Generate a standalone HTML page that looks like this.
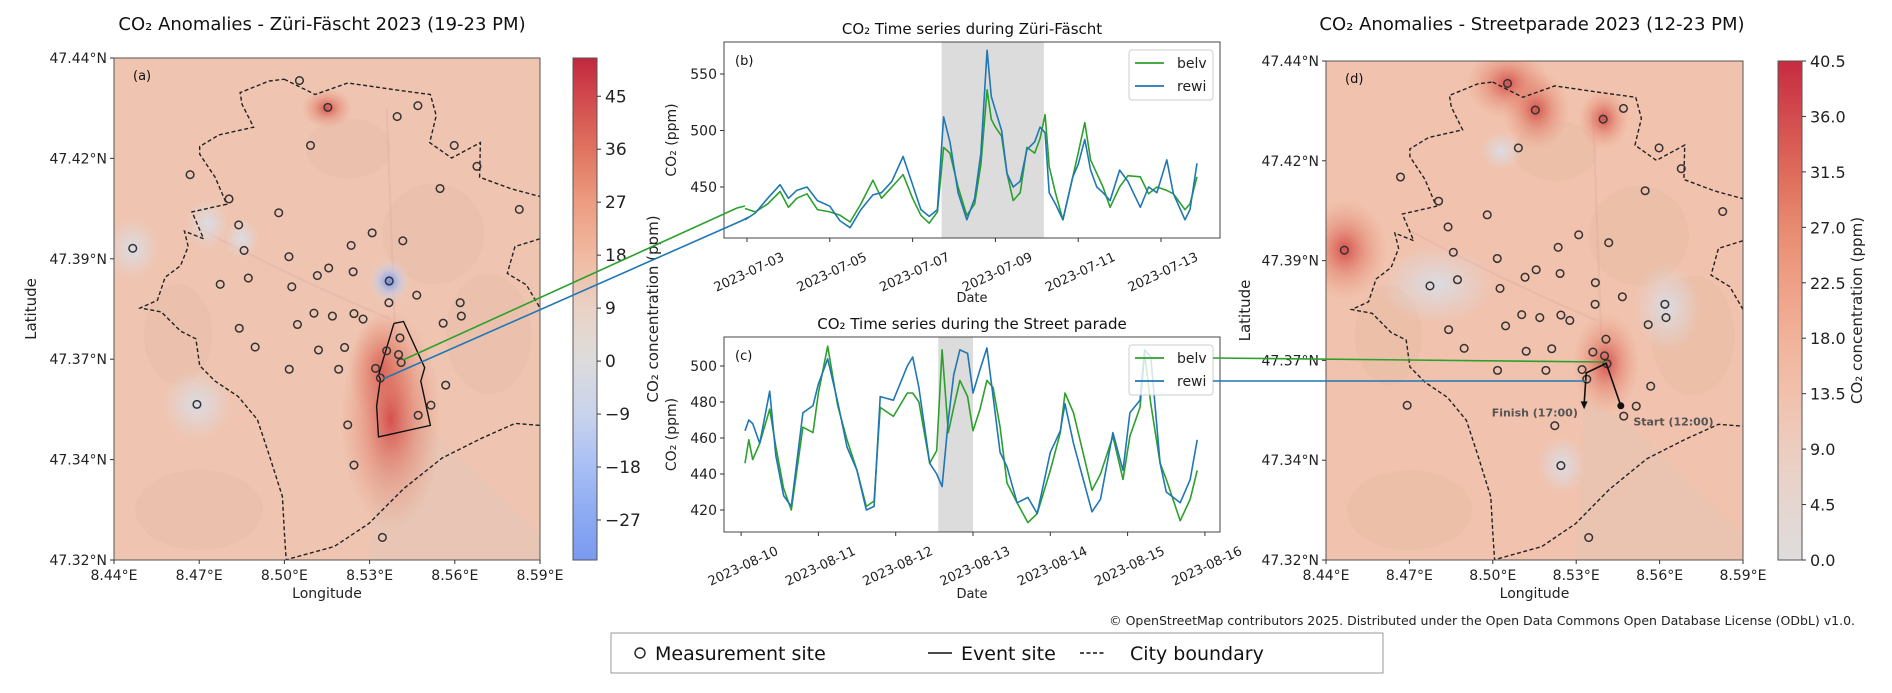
<!DOCTYPE html>
<html><head><meta charset="utf-8">
<style>
html,body{margin:0;padding:0;background:#fff;}
svg{display:block;font-family:"DejaVu Sans","Liberation Sans",sans-serif;}
</style></head>
<body>
<svg id="fig" width="1892" height="693" viewBox="0 0 1892 693" xmlns="http://www.w3.org/2000/svg">
<defs>
<linearGradient id="cbA" x1="0" y1="0" x2="0" y2="1">
<stop offset="0" stop-color="#c1273d"/><stop offset="0.07" stop-color="#d0464c"/><stop offset="0.18" stop-color="#e0725e"/><stop offset="0.28" stop-color="#eb9a7f"/><stop offset="0.39" stop-color="#f1b9a0"/><stop offset="0.5" stop-color="#ead2c6"/><stop offset="0.6" stop-color="#dddcdc"/><stop offset="0.71" stop-color="#c9d3ec"/><stop offset="0.81" stop-color="#a9c0f4"/><stop offset="0.92" stop-color="#8aa8f2"/><stop offset="1" stop-color="#7a9af0"/>
</linearGradient>
<linearGradient id="cbD" x1="0" y1="0" x2="0" y2="1">
<stop offset="0" stop-color="#c72b40"/><stop offset="0.11" stop-color="#d34b4e"/><stop offset="0.22" stop-color="#de6a5a"/><stop offset="0.33" stop-color="#e78a6f"/><stop offset="0.44" stop-color="#ee9f85"/><stop offset="0.56" stop-color="#f1b39b"/><stop offset="0.67" stop-color="#f1c1ad"/><stop offset="0.78" stop-color="#eccdc0"/><stop offset="0.89" stop-color="#e5d6d0"/><stop offset="1" stop-color="#dedcdc"/>
</linearGradient>
<radialGradient id="hotR"><stop offset="0" stop-color="#d44a48" stop-opacity="0.95"/><stop offset="0.5" stop-color="#e07a66" stop-opacity="0.5"/><stop offset="1" stop-color="#e8947c" stop-opacity="0"/></radialGradient>
<radialGradient id="hotB"><stop offset="0" stop-color="#6e8fe6" stop-opacity="1"/><stop offset="0.5" stop-color="#b9c6ee" stop-opacity="0.6"/><stop offset="1" stop-color="#dcd8dc" stop-opacity="0"/></radialGradient>
<radialGradient id="hotG"><stop offset="0" stop-color="#dadde6" stop-opacity="0.95"/><stop offset="1" stop-color="#dddbe0" stop-opacity="0"/></radialGradient>
<clipPath id="clipA"><rect x="114" y="58" width="426" height="502"/></clipPath>
<clipPath id="clipD"><rect x="1326" y="61" width="417" height="499"/></clipPath>
<clipPath id="clipB"><rect x="724" y="42" width="496" height="196"/></clipPath>
<clipPath id="clipC"><rect x="724" y="337" width="496" height="195"/></clipPath>
</defs>
<g id="root"></g>
</svg>
<script>
// ---- Time series (b) Züri-Fäscht: day of July 2023
const daysB=[2.95,3.2,3.5,3.8,4.0,4.2,4.45,4.7,5.0,5.25,5.49,5.75,6.04,6.25,6.5,6.77,7.0,7.2,7.4,7.6,7.75,7.9,8.1,8.31,8.5,8.65,8.8,8.9,9.0,9.15,9.28,9.43,9.6,9.76,9.95,10.08,10.2,10.3,10.45,10.63,10.87,11.0,11.16,11.3,11.45,11.6,11.77,12.0,12.2,12.5,12.7,12.9,13.14,13.3,13.58,13.7,13.87];
const rewiB=[421,427,440,452,440,447,450,438,433,420,414,430,443,445,455,477,452,430,424,430,512,490,445,421,440,480,571,530,518,500,462,450,455,483,490,503,498,445,435,421,459,470,492,465,450,445,438,465,455,432,450,445,474,444,421,430,471];
const belvB=[431,428,435,446,432,440,444,430,428,425,419,435,456,440,450,461,440,425,418,428,485,480,450,425,435,470,536,510,503,495,462,438,445,485,480,493,514,468,445,421,459,480,507,474,462,450,432,450,460,459,444,450,447,444,430,435,459];
const eventB=[7.7,10.17];
const ticksB=[3,5,7,9,11,13];
const ticksBLabels=["2023-07-03","2023-07-05","2023-07-07","2023-07-09","2023-07-11","2023-07-13"];
const yTicksB=[450,500,550];
// ---- Time series (c) Street parade: day of August 2023
const daysC=[10.05,10.1,10.15,10.24,10.37,10.45,10.55,10.65,10.8,10.93,11.0,11.12,11.25,11.37,11.5,11.62,11.72,11.8,11.97,12.15,12.22,12.3,12.44,12.53,12.6,12.68,12.75,12.83,12.93,13.0,13.09,13.18,13.26,13.35,13.44,13.57,13.71,13.83,14.0,14.13,14.19,14.3,14.54,14.65,14.81,14.94,15.03,15.16,15.22,15.3,15.42,15.5,15.68,15.81,15.9];
const rewiC=[464,470,468,457,486,450,428,422,474,478,490,504,480,455,442,420,422,483,481,500,505,488,446,440,433,470,495,509,507,485,498,510,483,452,444,424,427,418,452,464,479,457,419,426,463,442,474,481,509,505,446,430,424,437,459];
const belvC=[446,459,448,457,476,455,432,420,466,463,485,511,478,459,442,422,425,477,472,485,485,480,446,453,509,463,477,492,483,464,476,492,488,466,435,424,413,418,442,463,485,474,431,440,461,437,461,477,507,479,446,437,414,426,442];
const eventC=[12.55,13.0];
const ticksC=[10,11,12,13,14,15,16];
const ticksCLabels=["2023-08-10","2023-08-11","2023-08-12","2023-08-13","2023-08-14","2023-08-15","2023-08-16"];
const yTicksC=[420,440,460,480,500];
// ---- Measurement sites (lon, lat)
const siteLon=[8.5053,8.5153,8.5397,8.5470,8.5092,8.5598,8.5678,8.4668,8.5548,8.4805,8.4980,8.5827,8.4839,8.5309,8.5417,8.4466,8.4858,8.5235,8.5016,8.5156,8.5242,8.5116,8.4873,8.5369,8.4774,8.5026,8.5466,8.5368,8.5619,8.5623,8.5104,8.5169,8.5245,8.5277,8.5559,8.5046,8.4841,8.5407,8.4897,8.5120,8.5212,8.5360,8.5402,8.5411,8.5017,8.5191,8.5321,8.5338,8.5568,8.4692,8.5516,8.5471,8.5223,8.5245,8.5345];
const siteLat=[47.4346,47.4282,47.4260,47.4286,47.4191,47.4191,47.4141,47.4121,47.4088,47.4063,47.4030,47.4038,47.4001,47.3982,47.3963,47.3945,47.3940,47.3952,47.3925,47.3898,47.3889,47.3880,47.3874,47.3867,47.3859,47.3853,47.3833,47.3815,47.3815,47.3783,47.3790,47.3783,47.3789,47.3776,47.3766,47.3763,47.3754,47.3731,47.3709,47.3702,47.3708,47.3700,47.3691,47.3672,47.3656,47.3656,47.3658,47.3635,47.3618,47.3572,47.3570,47.3546,47.3523,47.3427,47.3254];
const lonTicks=[8.44,8.47,8.50,8.53,8.56,8.59];
const latTicks=["47.44°N","47.42°N","47.39°N","47.37°N","47.34°N","47.32°N"];
const cbATicks=[45,36,27,18,9,0,-9,-18,-27];
const cbDTicks=[40.5,36.0,31.5,27.0,22.5,18.0,13.5,9.0,4.5,0.0];

const NS="http://www.w3.org/2000/svg";
const root=document.getElementById('root');
function mk(tag,attrs,parent,text){const e=document.createElementNS(NS,tag);for(const k in attrs)e.setAttribute(k,attrs[k]);if(text!==undefined)e.textContent=text;(parent||root).appendChild(e);return e;}

// ---------- MAPS ----------
const boundaryPx=[[740,205],[820,245],[905,215],[1045,235],[1120,245],[1135,300],[1118,370],[1175,410],[1250,370],[1248,460],[1330,490],[1405,510],[1440,520],[1440,610],[1405,620],[1340,640],[1320,710],[1370,740],[1405,800],[1440,820],[1440,1100],[1405,1105],[1340,1100],[1250,1140],[1150,1190],[1050,1270],[960,1360],[870,1420],[760,1450],[745,1455],[740,1380],[735,1290],[700,1180],[670,1090],[620,1030],[560,990],[520,950],[510,880],[470,860],[420,810],[365,800],[410,780],[430,720],[470,690],[490,640],[480,600],[530,620],[500,550],[590,530],[560,460],[520,400],[520,380],[570,350],[660,330],[630,270],[625,240],[700,210],[740,205]];
const eventPx=[[1025,840],[1050,835],[1105,955],[1095,990],[1120,1105],[985,1135],[980,1055],[990,985],[985,975],[1025,840]];
function norm(p){return [(p[0]-297)/1108,(p[1]-150)/1305];}

function drawMap(M){
  const g=mk('g',{});
  const lx=lon=>M.x+(lon-8.44)/0.15*M.w;
  const ly=lat=>M.y+(47.44-lat)/0.12*M.h;
  const nx=n=>M.x+n*M.w, ny=n=>M.y+n*M.h;
  const inner=mk('g',{'clip-path':`url(#${M.clip})`},g);
  const bg=mk('rect',{x:M.x,y:M.y,width:M.w,height:M.h,fill:M.base},inner);
  
  
  [[0.75,0.35,0.12,0.1],[0.2,0.9,0.15,0.08],[0.55,0.18,0.1,0.06],[0.88,0.55,0.1,0.12],[0.15,0.55,0.08,0.1]].forEach(p=>{
    mk('ellipse',{cx:nx(p[0]),cy:ny(p[1]),rx:p[2]*M.w,ry:p[3]*M.h,fill:'#d9b29c','fill-opacity':0.18},inner);
  });
  mk('path',{d:`M${nx(0.62)},${ny(0.68)} L${nx(0.72)},${ny(0.72)} L${nx(1)},${ny(0.95)} L${nx(1)},${ny(1)} L${nx(0.6)},${ny(1)} Z`,fill:'#dcc6bb','fill-opacity':0.35},inner);
  mk('path',{d:`M${nx(0.2)},${ny(0.34)} Q${nx(0.45)},${ny(0.45)} ${nx(0.65)},${ny(0.52)} M${nx(0.64)},${ny(0.1)} L${nx(0.66)},${ny(0.55)}`,fill:'none',stroke:'#d5a0a0','stroke-width':2,'stroke-opacity':0.25},inner);
  M.spots.forEach(s=>{mk('ellipse',{cx:nx(s[0]),cy:ny(s[1]),rx:s[2]*M.w,ry:s[3]*M.h,fill:`url(#${s[4]})`},inner);});
  const bd=boundaryPx.map(norm).map((p,i)=>(i?'L':'M')+nx(p[0]).toFixed(1)+','+ny(p[1]).toFixed(1)).join(' ');
  const bp=mk('path',{d:bd,fill:'none',stroke:'#222','stroke-width':1.4,'stroke-dasharray':'4,2.5'},inner);
  
  
  if(M.event){
    const ed=eventPx.map(norm).map((p,i)=>(i?'L':'M')+nx(p[0]).toFixed(1)+','+ny(p[1]).toFixed(1)).join(' ');
    const ep=mk('path',{d:ed,fill:'none',stroke:'#111','stroke-width':1.4},inner);
    
    
  }
  siteLon.forEach((lon,i)=>{
    const c=mk('circle',{cx:lx(lon),cy:ly(siteLat[i]),r:3.8,fill:'none',stroke:'#333','stroke-width':1.5},inner);
    
    
  });
  if(M.route){
    const r=[[0.707,0.691],[0.672,0.606],[0.624,0.625],[0.619,0.688]];
    mk('path',{d:r.map((p,i)=>(i?'L':'M')+nx(p[0])+','+ny(p[1])).join(' '),fill:'none',stroke:'#111','stroke-width':1.6},inner);
    mk('path',{d:`M${nx(0.619)-3.5},${ny(0.682)} L${nx(0.619)+3.5},${ny(0.682)} L${nx(0.619)},${ny(0.698)} Z`,fill:'#111'},inner);
    mk('circle',{cx:nx(0.707),cy:ny(0.691),r:3.5,fill:'#111'},inner);
    const f=mk('text',{x:nx(0.604),y:ny(0.712),'text-anchor':'end','font-size':11,'font-weight':'bold',fill:'#555'},inner,'Finish (17:00)');
    
    
    const s=mk('text',{x:nx(0.737),y:ny(0.73),'font-size':11,'font-weight':'bold',fill:'#555'},inner,'Start (12:00)');
    
    
  }
  mk('rect',{x:M.x,y:M.y,width:M.w,height:M.h,fill:'none',stroke:'#555','stroke-width':1},g);
  mk('text',{x:M.x+19,y:M.y+22,'font-size':13,fill:'#111'},g,M.tag);
  lonTicks.forEach(t=>{
    const x=lx(t);
    mk('line',{x1:x,y1:M.y+M.h,x2:x,y2:M.y+M.h+4,stroke:'#333'},g);
    mk('text',{x:x,y:M.y+M.h+20,'text-anchor':'middle','font-size':14,fill:'#222'},g,t.toFixed(2)+'°E');
  });
  latTicks.forEach((t,i)=>{
    const y=M.y+i*M.h/5;
    mk('line',{x1:M.x-4,y1:y,x2:M.x,y2:y,stroke:'#333'},g);
    mk('text',{x:M.x-7,y:y+5,'text-anchor':'end','font-size':14,fill:'#222'},g,t);
  });
  mk('text',{x:M.x+M.w/2,y:M.y+M.h+38,'text-anchor':'middle','font-size':14,fill:'#222'},g,'Longitude');
  mk('text',{x:0,y:0,'text-anchor':'middle','font-size':15,fill:'#222',transform:`translate(${M.latX},${M.y+M.h/2}) rotate(-90)`},g,'Latitude');
  const tt=mk('text',{x:M.titleX,y:30,'text-anchor':'middle','font-size':18,fill:'#111'},g,M.title);
  
  
  const cb=mk('g',{},g);
  
  
  mk('rect',{x:M.cbX,y:M.y,width:24,height:M.h,fill:`url(#${M.cbGrad})`,stroke:'#555'},cb);
  M.cbTicks.forEach(v=>{
    const y=M.y+(M.cbMax-v)/(M.cbMax-M.cbMin)*M.h;
    mk('line',{x1:M.cbX+24,y1:y,x2:M.cbX+28,y2:y,stroke:'#333'},cb);
    mk('text',{x:M.cbX+32,y:y+6,'font-size':M.cbFont,fill:'#222'},cb,M.cbFmt(v));
  });
  mk('text',{x:0,y:0,'text-anchor':'middle','font-size':15,fill:'#222',transform:`translate(${M.cbLabX},${M.y+M.h/2}) rotate(-90)`},cb,'CO₂ concentration (ppm)');
  return {lx,ly,nx,ny};
}
const A=drawMap({name:'map-zuri-fascht',x:114,y:58,w:426,h:502,clip:'clipA',base:'#efc5b1',event:true,tag:'(a)',
  title:'CO₂ Anomalies - Züri-Fäscht 2023 (19-23 PM)',titleX:322,latX:36,
  spots:[[0.63,0.62,0.08,0.11,'hotR'],[0.65,0.72,0.12,0.22,'hotR'],[0.646,0.445,0.05,0.045,'hotB'],[0.195,0.69,0.08,0.07,'hotG'],[0.044,0.38,0.06,0.06,'hotG'],[0.3,0.36,0.04,0.04,'hotG'],[0.22,0.33,0.05,0.05,'hotG'],[0.5,0.1,0.06,0.04,'hotR']],
  cbX:573,cbGrad:'cbA',cbTicks:cbATicks,cbMax:51.5,cbMin:-33.8,cbFont:17,cbFmt:v=>(v<0?'−'+(-v):String(v)),cbLabX:658});
const D=drawMap({name:'map-streetparade',x:1326,y:61,w:417,h:499,clip:'clipD',base:'#f1c2ad',route:true,tag:'(d)',
  title:'CO₂ Anomalies - Streetparade 2023 (12-23 PM)',titleX:1532,latX:1250,
  spots:[[0.436,0.045,0.1,0.07,'hotR'],[0.504,0.098,0.08,0.08,'hotR'],[0.666,0.116,0.06,0.06,'hotR'],[0.045,0.378,0.1,0.1,'hotR'],[0.672,0.606,0.08,0.1,'hotR'],[0.265,0.448,0.14,0.08,'hotG'],[0.818,0.494,0.08,0.09,'hotG'],[0.566,0.81,0.06,0.06,'hotG'],[0.42,0.18,0.05,0.04,'hotG']],
  cbX:1778,cbGrad:'cbD',cbTicks:cbDTicks,cbMax:40.5,cbMin:0,cbFont:16,cbFmt:v=>v.toFixed(1),cbLabX:1862});

// ---------- TIME SERIES ----------
function drawTS(P){
  const g=mk('g',{});
  const X=P.xf, Y=P.yf;
  mk('rect',{x:P.x0,y:P.y0,width:P.x1-P.x0,height:P.y1-P.y0,fill:'#fff'},g);
  const inner=mk('g',{'clip-path':`url(#${P.clip})`},g);
  const sh=mk('rect',{x:X(P.event[0]),y:P.y0,width:X(P.event[1])-X(P.event[0]),height:P.y1-P.y0,fill:'#dcdcdc'},inner);
  
  
  [[P.belv,'#2ca02c','belv'],[P.rewi,'#1f77b4','rewi']].forEach(s=>{
    const d=P.days.map((t,i)=>(i?'L':'M')+X(t).toFixed(1)+','+Y(s[0][i]).toFixed(1)).join(' ');
    const p=mk('path',{d:d,fill:'none',stroke:s[1],'stroke-width':1.6,'stroke-linejoin':'round'},inner);
    
    
  });
  mk('rect',{x:P.x0,y:P.y0,width:P.x1-P.x0,height:P.y1-P.y0,fill:'none',stroke:'#444'},g);
  mk('text',{x:P.x0+11,y:P.y0+23,'font-size':13,fill:'#111'},g,P.tag);
  P.xticks.forEach((t,i)=>{
    const x=X(t);
    mk('line',{x1:x,y1:P.y1,x2:x,y2:P.y1+4,stroke:'#333'},g);
    mk('text',{x:0,y:0,'text-anchor':'end','font-size':13,fill:'#222',transform:`translate(${x+38},${P.y1+22}) rotate(-25)`},g,P.xlabels[i]);
  });
  P.yticks.forEach(v=>{
    const y=Y(v);
    mk('line',{x1:P.x0-4,y1:y,x2:P.x0,y2:y,stroke:'#333'},g);
    mk('text',{x:P.x0-7,y:y+5,'text-anchor':'end','font-size':14,fill:'#222'},g,String(v));
  });
  mk('text',{x:972,y:P.dateY,'text-anchor':'middle','font-size':13,fill:'#222'},g,'Date');
  mk('text',{x:0,y:0,'text-anchor':'middle','font-size':14,fill:'#222',transform:`translate(${P.ylabX},${(P.y0+P.y1)/2}) rotate(-90)`},g,'CO₂ (ppm)');
  mk('text',{x:972,y:P.y0-8,'text-anchor':'middle','font-size':15,fill:'#111'},g,P.title);
  const lg=mk('g',{},g);
  
  
  mk('rect',{x:1129,y:P.y0+8,width:84,height:50,rx:3,fill:'#fff','fill-opacity':0.8,stroke:'#ccc'},lg);
  [['belv','#2ca02c',0],['rewi','#1f77b4',1]].forEach(e=>{
    const y=P.y0+21+e[2]*23;
    const li=mk('line',{x1:1135,y1:y,x2:1164,y2:y,stroke:e[1],'stroke-width':1.8},lg);
    
    
    mk('text',{x:1177,y:y+5,'font-size':14,fill:'#222'},lg,e[0]);
  });
}
drawTS({name:'timeseries-zuri-fascht',x0:724,x1:1220,y0:42,y1:238,clip:'clipB',tag:'(b)',
  xf:t=>747+(t-3)*41.4, yf:v=>187-(v-450)*1.13, days:daysB, belv:belvB, rewi:rewiB, event:eventB,
  xticks:ticksB, xlabels:ticksBLabels, yticks:yTicksB, dateY:302, ylabX:676, title:'CO₂ Time series during Züri-Fäscht'});
drawTS({name:'timeseries-streetparade',x0:724,x1:1220,y0:337,y1:532,clip:'clipC',tag:'(c)',
  xf:t=>973+(t-13)*77.3, yf:v=>366-(v-500)*1.8, days:daysC, belv:belvC, rewi:rewiC, event:eventC,
  xticks:ticksC, xlabels:ticksCLabels, yticks:yTicksC, dateY:598, ylabX:676, title:'CO₂ Time series during the Street parade'});

// ---------- connectors ----------
const cg=mk('g',{});
mk('path',{d:'M403,360 L737,208 L745,206',fill:'none',stroke:'#2ca02c','stroke-width':1.6},cg);
mk('path',{d:'M383,379 L741,221 L749,217',fill:'none',stroke:'#1f77b4','stroke-width':1.6},cg);
mk('path',{d:'M1213,358 L1606,362',fill:'none',stroke:'#2ca02c','stroke-width':1.6},cg);
mk('path',{d:'M1213,381 L1586,381',fill:'none',stroke:'#1f77b4','stroke-width':1.6},cg);

// ---------- attribution & legend ----------
const at=mk('text',{x:1855,y:625,'text-anchor':'end','font-size':12.5,fill:'#222'},root,'© OpenStreetMap contributors 2025. Distributed under the Open Data Commons Open Database License (ODbL) v1.0.');


const lb=mk('g',{});


mk('rect',{x:611,y:633,width:772,height:40,fill:'#fff',stroke:'#999'},lb);
mk('circle',{cx:640,cy:653,r:5,fill:'none',stroke:'#222','stroke-width':1.4},lb);
mk('text',{x:655,y:660,'font-size':19,fill:'#111'},lb,'Measurement site');
mk('line',{x1:928,y1:653,x2:952,y2:653,stroke:'#111','stroke-width':1.6},lb);
mk('text',{x:961,y:660,'font-size':19,fill:'#111'},lb,'Event site');
mk('line',{x1:1080,y1:653,x2:1104,y2:653,stroke:'#111','stroke-width':1.6,'stroke-dasharray':'4,2.5'},lb);
mk('text',{x:1130,y:660,'font-size':19,fill:'#111'},lb,'City boundary');
</script>
</body></html>
